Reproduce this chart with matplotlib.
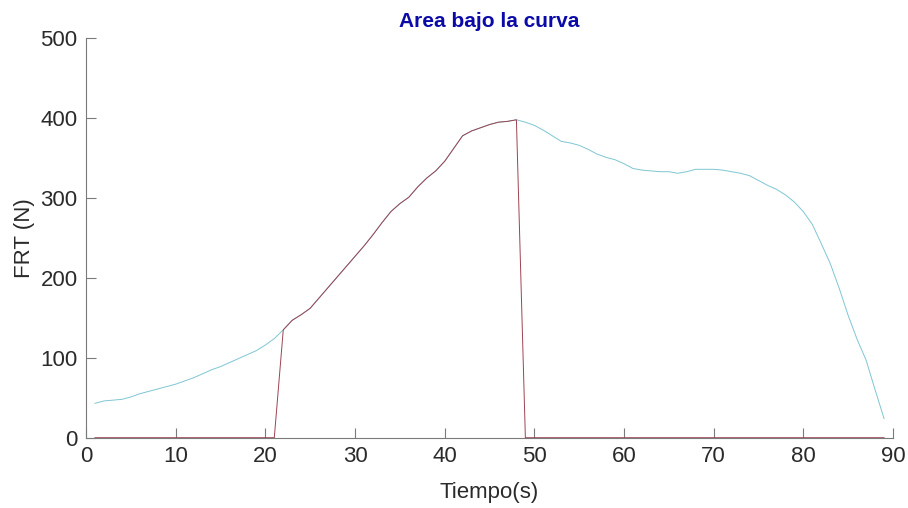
import numpy as np
import matplotlib
matplotlib.use('Agg')
import matplotlib.pyplot as plt

plt.rcParams['font.family'] = ['Liberation Sans', 'DejaVu Sans']

# fuerza registrada por segundo
tiempo = np.arange(1, 90)
frt = [43, 46, 47, 48, 51, 55, 58, 61, 64, 67,
       71, 75, 80, 85, 89, 94, 99, 104, 109, 116,
       124, 135, 147, 154, 162, 175, 188, 201, 214, 227,
       240, 254, 269, 283, 293, 301, 314, 325, 334, 346,
       362, 378, 384, 388, 392, 395, 396, 398, 395, 391,
       385, 378, 371, 369, 366, 361, 355, 351, 348, 343,
       337, 335, 334, 333, 333, 331, 333, 336, 336, 336,
       335, 333, 331, 328, 322, 316, 311, 304, 295, 283,
       267, 243, 218, 187, 153, 123, 97, 60, 24]

# intervalo de integracion
t_ini = 22
t_fin = 48

frt = np.array(frt, dtype=float)
area = np.where((tiempo >= t_ini) & (tiempo <= t_fin), frt, 0.0)

fig = plt.figure(figsize=(9.08, 5.08), dpi=100)
ax = fig.add_axes([0.0947, 0.1384, 0.8888, 0.7862])

ax.plot(tiempo, frt, color='#7ec6d3', lw=0.7)
ax.plot(tiempo, area, color='#9e4352', lw=0.7)

ax.set_xlim(0, 90)
ax.set_ylim(0, 500)
ax.set_xticks(np.arange(0, 91, 10))
ax.set_yticks(np.arange(0, 501, 100))

for s in ['top', 'right']:
    ax.spines[s].set_visible(False)
for s in ['left', 'bottom']:
    ax.spines[s].set_color('#7a7a7a')
    ax.spines[s].set_linewidth(0.8)

ax.tick_params(direction='in', length=7, width=0.8, color='#7a7a7a',
               labelsize=16, labelcolor='#2a2a2a', pad=6)

ax.set_xlabel('Tiempo(s)', fontsize=16, color='#2a2a2a', labelpad=11)
ax.set_ylabel('FRT (N)', fontsize=16, color='#2a2a2a', labelpad=4)
ax.set_title('Area bajo la curva', fontsize=15, fontweight='bold',
             color='#0a0aa8', pad=8)

fig.savefig('out.png', dpi=100)
